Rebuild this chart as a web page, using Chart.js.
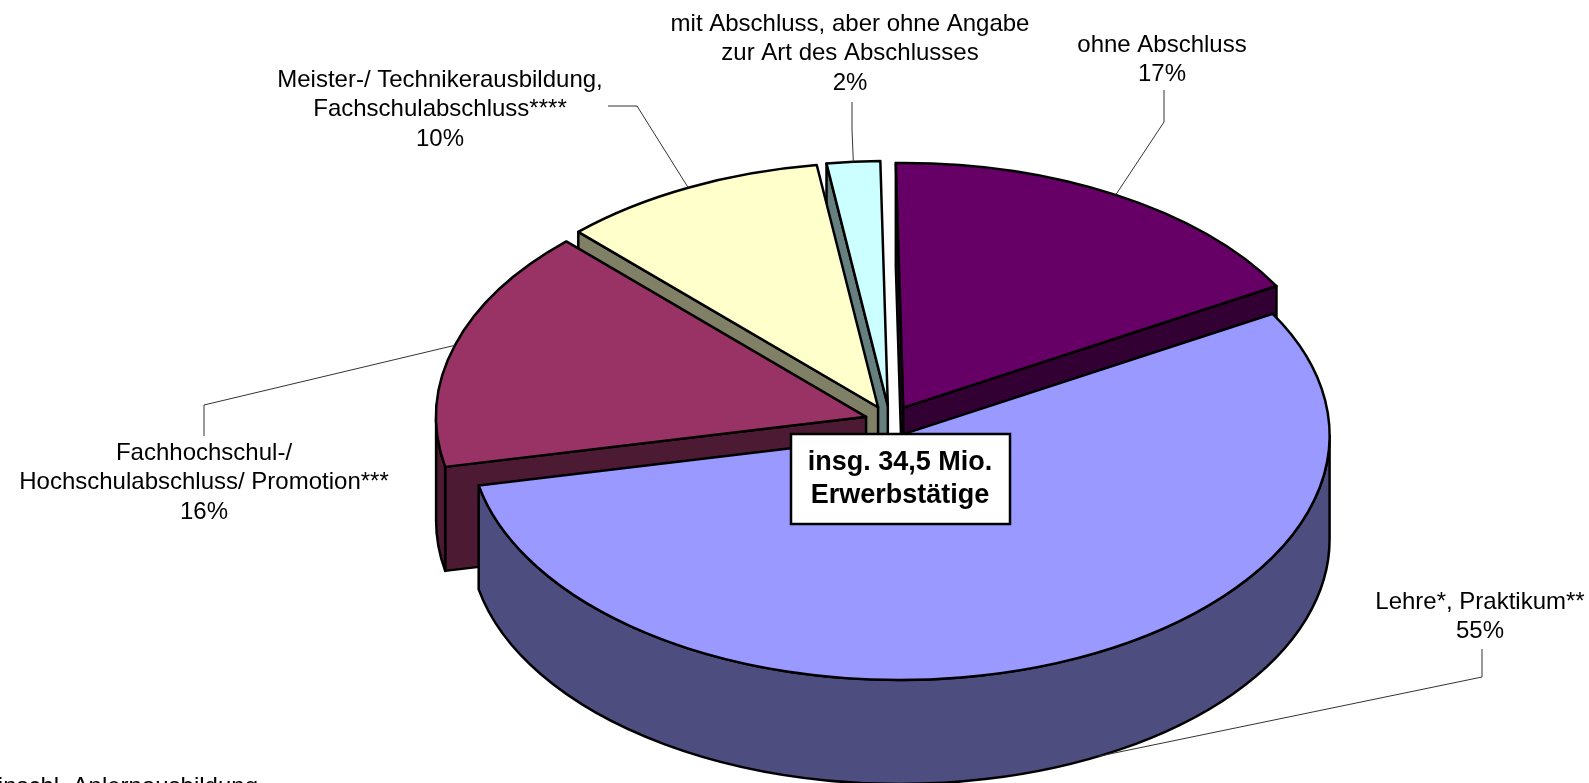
<!DOCTYPE html>
<html lang="de">
<head>
  <meta charset="UTF-8">
  <title>Erwerbstätige nach Berufsabschluss</title>
  <script src="https://cdn.jsdelivr.net/npm/chart.js"></script>
  <style>
    html, body { margin: 0; padding: 0; background: #fff; overflow: hidden; }
    #wrap { width: 1589px; height: 783px; }
  </style>
</head>
<body>
  <div id="wrap"><canvas id="pie"></canvas></div>
  <script>
    // values, clockwise from the top
    const categories = [
      ['ohne Abschluss'],
      ['Lehre*, Praktikum**'],
      ['Fachhochschul-/', 'Hochschulabschluss/ Promotion***'],
      ['Meister-/ Technikerausbildung,', 'Fachschulabschluss****'],
      ['mit Abschluss, aber ohne Angabe', 'zur Art des Abschlusses']
    ];
    const shares = [17, 55, 16, 10, 2];
    const sliceColors = ['#660066', '#9999FF', '#993366', '#FFFFCC', '#CCFFFF'];
    const totalLabel = ['insg. 34,5 Mio.', 'Erwerbstätige'];
    const footnote = '*einschl. Anlernausbildung';

    const FONT = '"Liberation Sans", Arial, sans-serif';
    const SQUASH = 0.569;    // tilt of the pie
    const DEPTH = 104;       // height of the cake
    const LINE_H = 29.8;

    // where each label block sits: centre x, first line y, leader polyline start
    const labelPos = [
      { x: 1162, y: 45, leader: [[1164, 90], [1164, 122]] },
      { x: 1480, y: 602, leader: [[1482, 649], [1482, 677]], hit: 1.09, wall: true },
      { x: 204, y: 453, leader: [[204, 436], [204, 405]] },
      { x: 440, y: 80, leader: [[608, 106], [637, 106]] },
      { x: 850, y: 24, leader: [[852, 102], [852, 130]] }
    ];

    function shade(hex) {
      const n = parseInt(hex.slice(1), 16);
      const half = v => Math.round(v / 2);
      return `rgb(${half(n >> 16)}, ${half((n >> 8) & 255)}, ${half(n & 255)})`;
    }

    // centre of one exploded slice on the flattened top face
    function sliceGeom(arc, cy0) {
      const p = arc.getProps(['x', 'y', 'startAngle', 'endAngle', 'outerRadius'], true);
      const mid = (p.startAngle + p.endAngle) / 2;
      const off = arc.options.offset;
      const cx = p.x + Math.cos(mid) * off;
      const cy = cy0 + (p.y - cy0 + Math.sin(mid) * off) * SQUASH;
      return { cx, cy, r: p.outerRadius, a0: p.startAngle, a1: p.endAngle, mid };
    }

    function fillStroke(ctx, fill) {
      ctx.fillStyle = fill;
      ctx.fill();
      ctx.stroke();
    }

    function drawSlice(ctx, g, color) {
      const ry = g.r * SQUASH;
      const dark = shade(color);
      const pt = a => [g.cx + Math.cos(a) * g.r, g.cy + Math.sin(a) * ry];

      // walls of the cut faces that look at the viewer
      [[g.a0, Math.cos(g.a0) < 0], [g.a1, Math.cos(g.a1) > 0]].forEach(([a, show]) => {
        if (!show) return;
        const [ex, ey] = pt(a);
        ctx.beginPath();
        ctx.moveTo(g.cx, g.cy);
        ctx.lineTo(ex, ey);
        ctx.lineTo(ex, ey + DEPTH);
        ctx.lineTo(g.cx, g.cy + DEPTH);
        ctx.closePath();
        fillStroke(ctx, dark);
      });

      // outer curved wall, front half only
      const from = Math.max(g.a0, 0);
      const to = Math.min(g.a1, Math.PI);
      if (to > from) {
        ctx.beginPath();
        ctx.ellipse(g.cx, g.cy, g.r, ry, 0, from, to);
        ctx.ellipse(g.cx, g.cy + DEPTH, g.r, ry, 0, to, from, true);
        ctx.closePath();
        fillStroke(ctx, dark);
      }

      // top face
      ctx.beginPath();
      ctx.moveTo(g.cx, g.cy);
      ctx.ellipse(g.cx, g.cy, g.r, ry, 0, g.a0, g.a1);
      ctx.closePath();
      fillStroke(ctx, color);
    }

    const pie3d = {
      id: 'pie3d',
      beforeDatasetsDraw(chart) {
        const ctx = chart.ctx;
        const arcs = chart.getDatasetMeta(0).data;
        const cy0 = arcs[0].y;
        const geoms = arcs.map(a => sliceGeom(a, cy0));

        // painter's order, back slices first
        const order = geoms.map((g, i) => i).sort((a, b) => Math.sin(geoms[a].mid) - Math.sin(geoms[b].mid));
        ctx.save();
        ctx.strokeStyle = '#000';
        ctx.lineWidth = 2.5;
        ctx.lineJoin = 'round';
        order.forEach(i => drawSlice(ctx, geoms[i], sliceColors[i]));
        ctx.restore();

        // leaders and labels
        ctx.save();
        ctx.font = `24px ${FONT}`;
        ctx.textAlign = 'center';
        ctx.textBaseline = 'middle';
        geoms.forEach((g, i) => {
          const pos = labelPos[i];
          const a = pos.hit || g.mid;
          const hx = g.cx + Math.cos(a) * g.r;
          const hy = g.cy + Math.sin(a) * g.r * SQUASH + (pos.wall ? DEPTH : 0);
          ctx.beginPath();
          pos.leader.forEach(([x, y], k) => k ? ctx.lineTo(x, y) : ctx.moveTo(x, y));
          ctx.lineTo(hx, hy);
          ctx.strokeStyle = '#333';
          ctx.lineWidth = 1;
          ctx.stroke();
          const lines = categories[i].concat(shares[i] + '%');
          ctx.fillStyle = '#000';
          lines.forEach((t, k) => ctx.fillText(t, pos.x, pos.y + k * LINE_H));
        });

        // total box
        ctx.fillStyle = '#fff';
        ctx.strokeStyle = '#000';
        ctx.lineWidth = 2.5;
        ctx.fillRect(791, 434, 219, 90);
        ctx.strokeRect(791, 434, 219, 90);
        ctx.fillStyle = '#000';
        ctx.font = `bold 27px ${FONT}`;
        ctx.fillText(totalLabel[0], 900, 463);
        ctx.fillText(totalLabel[1], 900, 496);

        ctx.font = `24px ${FONT}`;
        ctx.textAlign = 'right';
        ctx.fillText(footnote, 258, 787);
        ctx.restore();
        return false; // the arcs are drawn above, skip the flat ones
      }
    };

    new Chart(document.getElementById('pie'), {
      type: 'pie',
      data: {
        labels: categories.map(c => c.join(' ')),
        datasets: [{
          data: shares,
          backgroundColor: sliceColors,
          borderWidth: 0,
          offset: [27, 27, 25, 27, 27],
          radius: 430
        }]
      },
      options: {
        responsive: true,
        maintainAspectRatio: false,
        animation: false,
        rotation: -1,
        layout: { padding: { left: 191, right: 0, top: 59, bottom: 0 } },
        plugins: { legend: { display: false }, tooltip: { enabled: false } }
      },
      plugins: [pie3d]
    });
  </script>
</body>
</html>
